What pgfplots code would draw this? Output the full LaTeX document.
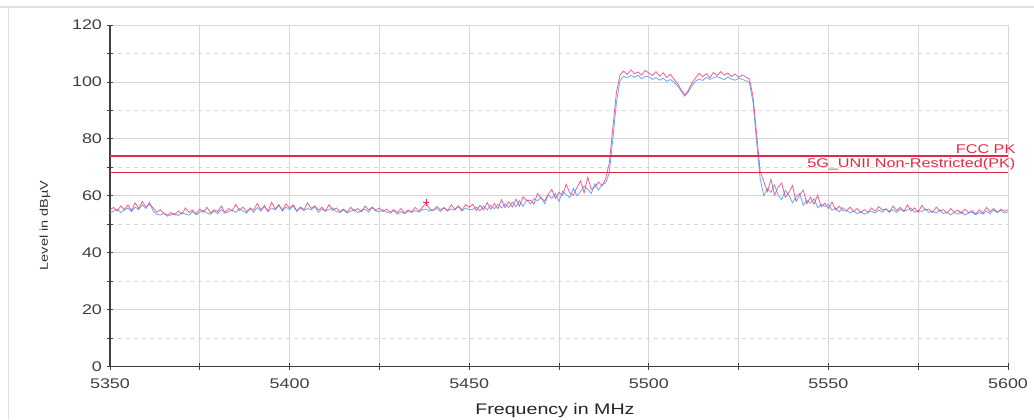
\documentclass[border=0pt]{standalone}
\usepackage{fontspec}
\setmainfont{Liberation Sans}[FakeStretch=1.28]
\usepackage{pgfplots}
\usepackage{pgfplotstable}
\pgfplotsset{compat=1.18}
\definecolor{specred}{RGB}{232,70,128}
\definecolor{specblue}{RGB}{105,170,240}
\definecolor{limred}{RGB}{220,45,70}
\definecolor{gridgray}{RGB}{215,215,215}
\pgfplotstableread{
f r b
5350 55.0 53.9
5351 55.9 54.6
5352 54.6 55.3
5353 56.4 54.1
5354 55.1 55.0
5355 56.8 55.7
5356 54.8 54.4
5357 57.5 56.0
5358 55.5 55.1
5359 58.0 56.8
5360 56.0 55.5
5361 57.1 57.7
5362 55.7 54.6
5363 54.2 53.5
5364 55.1 53.2
5365 53.7 53.9
5366 53.2 52.8
5367 54.1 53.3
5368 53.3 53.7
5369 54.6 53.0
5370 53.5 54.1
5371 55.7 53.5
5372 54.1 53.2
5373 55.0 54.4
5374 53.7 53.3
5375 55.3 54.2
5376 54.2 54.8
5377 55.9 53.9
5378 53.9 53.5
5379 55.1 54.6
5380 54.4 53.7
5381 56.4 55.1
5382 54.1 53.9
5383 55.5 54.4
5384 54.6 55.0
5385 56.9 54.1
5386 54.8 55.5
5387 56.0 54.6
5388 54.4 53.9
5389 55.7 55.3
5390 55.0 54.2
5391 57.3 55.9
5392 55.1 54.6
5393 56.2 56.6
5394 54.6 54.4
5395 57.7 55.7
5396 55.3 55.0
5397 56.6 56.9
5398 55.0 54.6
5399 57.1 56.0
5400 55.7 55.1
5401 56.8 56.4
5402 54.8 54.4
5403 56.0 55.7
5404 55.1 54.8
5405 57.5 55.5
5406 55.5 55.0
5407 56.4 56.2
5408 55.0 54.2
5409 55.9 55.3
5410 54.6 54.6
5411 56.9 55.1
5412 54.8 55.7
5413 55.7 54.4
5414 54.4 54.1
5415 55.3 55.0
5416 54.2 53.9
5417 55.9 54.6
5418 54.6 55.1
5419 55.5 54.1
5420 54.4 54.8
5421 56.4 55.3
5422 55.0 54.2
5423 56.0 55.9
5424 54.8 54.6
5425 55.7 54.4
5426 54.4 55.1
5427 55.3 54.2
5428 54.2 53.9
5429 55.1 54.8
5430 54.1 53.5
5431 55.5 54.4
5432 53.9 53.7
5433 55.0 54.6
5434 54.4 54.1
5435 55.9 54.8
5436 54.6 54.2
5437 56.0 55.1
5438 57.5 55.3
5439 55.3 54.6
5440 54.8 55.0
5441 56.2 55.5
5442 55.1 54.4
5443 55.7 55.9
5444 54.6 54.8
5445 56.8 55.3
5446 55.3 55.0
5447 56.4 56.2
5448 55.0 54.6
5449 56.9 55.7
5450 55.9 55.1
5451 57.0 55.2
5452 54.8 56.0
5453 56.6 54.7
5454 55.0 56.4
5455 57.6 55.0
5456 55.3 56.7
5457 57.2 55.4
5458 55.4 57.0
5459 58.6 55.7
5460 55.8 57.2
5461 57.9 55.8
5462 56.0 57.8
5463 58.8 56.1
5464 56.3 58.2
5465 59.6 56.2
5466 58.3 58.6
5467 58.4 57.1
5468 57.0 59.0
5469 60.8 58.2
5470 59.1 59.5
5471 58.2 57.2
5472 60.5 60.2
5473 62.2 59.1
5474 59.0 60.8
5475 61.2 58.0
5476 60.1 61.6
5477 64.0 60.4
5478 61.0 59.3
5479 60.2 62.6
5480 62.9 60.0
5481 65.2 61.5
5482 61.0 63.4
5483 66.5 62.2
5484 62.2 60.8
5485 63.1 64.2
5486 64.8 62.0
5487 63.5 63.9
5488 66.0 64.5
5489 71.5 68.0
5490 84.0 80.0
5491 96.5 93.0
5492 102.5 100.5
5493 103.8 102.0
5494 102.6 101.4
5495 104.2 102.3
5496 102.9 101.6
5497 103.5 102.4
5498 102.4 101.1
5499 104.0 102.0
5500 103.1 101.8
5501 102.3 100.9
5502 103.6 101.5
5503 102.0 100.6
5504 103.2 101.3
5505 101.6 100.2
5506 102.7 100.8
5507 100.9 99.9
5508 99.5 98.6
5509 97.2 96.8
5510 95.4 95.0
5511 97.0 96.5
5512 99.6 98.7
5513 101.4 100.2
5514 103.0 101.0
5515 101.8 100.5
5516 102.9 101.6
5517 101.5 100.9
5518 103.3 101.4
5519 102.2 101.9
5520 103.6 101.3
5521 102.4 100.8
5522 103.1 101.7
5523 101.9 101.0
5524 102.8 100.6
5525 101.6 101.2
5526 102.5 100.9
5527 101.7 100.4
5528 101.0 99.8
5529 95.0 93.0
5530 82.0 79.0
5531 68.5 66.0
5532 65.0 60.0
5533 61.4 62.5
5534 65.8 61.2
5535 60.2 63.8
5536 63.0 60.1
5537 64.5 58.6
5538 59.4 61.9
5539 61.2 60.2
5540 63.6 57.5
5541 58.0 59.8
5542 60.3 60.8
5543 62.0 56.6
5544 57.2 58.4
5545 59.5 57.4
5546 57.0 59.0
5547 60.2 55.8
5548 56.1 56.9
5549 57.4 56.2
5550 55.5 57.0
5551 57.8 54.9
5552 55.0 55.6
5553 56.3 54.3
5554 54.8 55.8
5555 54.6 55.0
5556 56.0 53.9
5557 54.4 54.6
5558 55.5 53.7
5559 54.1 54.4
5560 55.1 53.5
5561 54.2 54.1
5562 55.7 54.6
5563 54.6 53.9
5564 56.2 55.0
5565 55.0 54.2
5566 55.3 55.5
5567 54.2 54.4
5568 56.4 55.1
5569 54.8 54.1
5570 55.9 55.3
5571 54.4 54.6
5572 56.8 55.0
5573 54.6 55.7
5574 55.7 54.2
5575 54.2 54.8
5576 56.6 54.4
5577 55.0 55.3
5578 55.3 54.1
5579 54.1 54.6
5580 56.0 53.9
5581 54.6 55.0
5582 55.1 53.7
5583 53.9 54.2
5584 55.5 53.3
5585 54.2 54.1
5586 55.0 53.5
5587 53.7 54.4
5588 55.3 53.2
5589 54.1 53.9
5590 54.8 54.2
5591 53.5 53.3
5592 55.1 54.1
5593 53.9 53.5
5594 55.9 54.6
5595 54.4 53.7
5596 55.5 55.0
5597 54.2 54.1
5598 55.3 54.8
5599 54.6 53.9
5600 55.1 54.4
}\data
\begin{document}
\begin{tikzpicture}
\begin{axis}[
  scale only axis,
  width=673.5pt, height=256.1pt,
  xmin=5350, xmax=5600, ymin=0, ymax=120,
  axis x line=bottom, axis y line=left,
  axis line style={-, black!75, line width=0.8pt},
  xtick={5350,5400,...,5600},
  minor xtick={5375,5425,...,5575},
  ytick={0,20,...,120},
  minor ytick={10,30,...,110},
  tick align=center,
  major tick length=5pt, minor tick length=5pt,
  tick style={black!75, line width=0.6pt},
  grid=both,
  major grid style={gridgray, line width=0.5pt},
  minor grid style={gridgray, line width=0.5pt, dashed},
  minor x grid style={gridgray, line width=0.5pt, solid},
  ticklabel style={font=\fontsize{10.5}{12}\selectfont, text=black!75},
  /pgf/number format/assume math mode=true,
  /pgf/number format/1000 sep={},
  xticklabel shift=3pt,
  xlabel={Frequency in MHz},
  ylabel={Level in dBµV},
  xlabel style={font=\fontsize{11.5}{13}\selectfont, text=black!85, at={(axis description cs:0.4955,-0.129)}, anchor=center},
  ylabel style={font=\fontsize{8.5}{10}\selectfont, text=black!80, at={(axis description cs:-0.0724,0.413)}, anchor=center},
  clip=false,
]
\addplot[specblue, line width=0.6pt] table[x=f, y=b]{\data};
\addplot[specred, line width=0.6pt, opacity=0.85] table[x=f, y=r]{\data};
\addplot[limred, line width=1.2pt] coordinates {(5350,74) (5600,74)};
\addplot[limred, line width=1.2pt] coordinates {(5350,68.2) (5600,68.2)};
\addplot[only marks, mark=+, mark size=2.5pt, limred, line width=0.9pt] coordinates {(5438,57.7)};
\node[anchor=south east, inner sep=1pt, text=limred, font=\fontsize{9.5}{11}\selectfont] at (axis cs:5602.5,74.3) {FCC PK};
\node[anchor=south east, inner sep=1pt, text=limred, font=\fontsize{9.5}{11}\selectfont] at (axis cs:5602.5,68.5) {5G\_UNII Non-Restricted(PK)};
\end{axis}
\pgfresetboundingbox
\path[use as bounding box] ([xshift=-82.5pt,yshift=-39.75pt]current axis.south west) rectangle ([xshift=19.5pt,yshift=18.75pt]current axis.north east);
\draw[black!12, line width=2.2pt] ([xshift=-82.5pt,yshift=13.5pt]current axis.north west) -- ([xshift=19.5pt,yshift=13.5pt]current axis.north east);
\draw[black!12, line width=1.2pt] ([xshift=-76pt,yshift=13.5pt]current axis.north west) -- ([xshift=-76pt,yshift=-39.75pt]current axis.south west);
\end{tikzpicture}
\end{document}
